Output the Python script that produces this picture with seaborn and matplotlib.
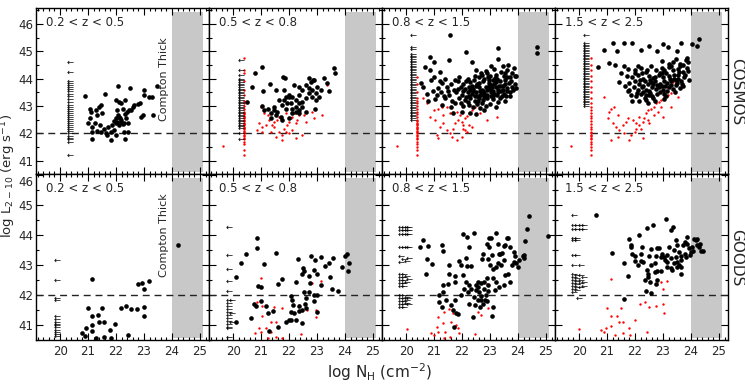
import matplotlib
matplotlib.use('Agg')
import matplotlib.pyplot as plt
import matplotlib.transforms as mtransforms
from matplotlib.ticker import MultipleLocator
import seaborn as sns
import pandas as pd
import numpy as np

zbins = ['0.2 < z < 0.5', '0.5 < z < 0.8', '0.8 < z < 1.5', '1.5 < z < 2.5']
fields = ['COSMOS', 'GOODS']
x_ticks = [20, 21, 22, 23, 24, 25]
y_ticks = [41, 42, 43, 44, 45, 46]
lum_cut = 42.0
compton_thick = (24.0, 25.1)

# ---- COSMOS, detected sources (black) ----
cosmos1_black = [
    (20.88, 43.37), (21.59, 43.44), (22.07, 43.73), (22.51, 43.65), (23.01, 43.59), (23.45, 43.73),
    (23.01, 43.40), (23.19, 43.34), (23.28, 43.34), (22.95, 42.67), (23.31, 42.67), (22.89, 42.61),
    (21.06, 42.91), (21.11, 42.79), (21.27, 42.85), (21.39, 42.98), (21.45, 43.04), (21.33, 42.67),
    (21.51, 42.73), (21.06, 42.55), (21.23, 42.37), (21.42, 42.30), (20.99, 42.39), (21.14, 42.22),
    (21.33, 42.10), (21.57, 42.18), (21.71, 42.24), (21.14, 42.06), (21.14, 41.78), (21.45, 42.06),
    (21.63, 42.00), (21.69, 41.94), (21.83, 41.76), (21.99, 41.94), (21.81, 42.06), (21.93, 42.12),
    (21.99, 43.22), (22.11, 43.16), (22.19, 43.10), (22.31, 43.22), (22.05, 42.85), (22.07, 42.67),
    (22.11, 42.61), (22.14, 42.55), (22.19, 42.49), (22.17, 42.43), (22.05, 42.43), (21.99, 42.37),
    (22.11, 42.30), (22.23, 42.34), (22.29, 42.37), (21.99, 42.55), (21.93, 42.46), (21.87, 42.30),
    (22.31, 41.78), (22.41, 42.06), (22.23, 42.91), (22.47, 42.85), (22.59, 42.98), (22.65, 43.04),
    (22.77, 43.07), (22.87, 43.10), (22.39, 42.79), (22.53, 42.85), (22.31, 42.71), (22.35, 42.55),
    (22.43, 42.37), (22.29, 42.06),
]
cosmos2_black = [
    (20.51, 43.16), (20.79, 44.22), (21.05, 44.44), (20.69, 43.71), (21.07, 43.56), (21.32, 43.80),
    (21.52, 43.59), (21.79, 44.07), (21.86, 44.02), (21.05, 43.00), (21.26, 42.88), (21.35, 42.76),
    (21.46, 42.98), (21.52, 42.67), (21.70, 42.61), (21.58, 42.79), (21.76, 43.04), (21.82, 43.22),
    (21.90, 43.34), (22.00, 43.40), (22.12, 43.34), (22.24, 43.22), (22.36, 43.40), (22.06, 43.10),
    (21.88, 42.91), (22.12, 42.91), (22.24, 42.98), (22.36, 43.10), (22.48, 43.16), (22.60, 43.28),
    (22.71, 43.46), (22.83, 43.59), (22.77, 43.89), (22.89, 43.95), (23.01, 43.71), (23.13, 43.59),
    (23.25, 44.01), (23.07, 43.34), (22.95, 43.22), (22.60, 42.79), (22.36, 42.73), (22.12, 42.73),
    (22.00, 42.55), (21.76, 42.49), (21.35, 42.55), (22.71, 44.01), (22.86, 43.95), (23.43, 43.56),
    (23.61, 44.40), (23.64, 44.22), (23.37, 43.83), (22.93, 42.91), (22.48, 42.98), (22.36, 42.85),
    (22.24, 42.79), (21.94, 43.10), (21.82, 43.59), (22.18, 43.77), (22.36, 43.71), (22.48, 43.59),
    (22.60, 43.77), (22.71, 43.65), (22.95, 43.46), (22.83, 43.34), (22.00, 43.34), (21.64, 43.22),
    (21.46, 42.85), (21.11, 42.85),
]
cosmos3_black = [
    (21.57, 45.60), (22.15, 44.96), (23.27, 45.13), (24.67, 45.17), (24.67, 44.95), (20.86, 44.80),
    (21.00, 44.60), (21.55, 44.68), (22.35, 44.62), (23.30, 44.70), (23.65, 44.50), (23.45, 44.45),
    (20.68, 44.44), (20.85, 44.30), (21.20, 44.25), (22.50, 44.30), (22.90, 44.20), (23.15, 44.35),
    (23.40, 44.25), (23.60, 44.30), (23.85, 44.38), (22.70, 44.15), (21.00, 44.05), (21.40, 44.00),
    (21.90, 44.05), (22.20, 43.98), (22.60, 44.05), (23.00, 44.10), (23.25, 44.00), (23.50, 44.10),
    (23.70, 44.05), (23.93, 44.10), (22.45, 44.08), (23.10, 43.95), (20.55, 43.85), (21.30, 43.85),
    (21.60, 43.80), (21.85, 43.90), (22.05, 43.82), (22.30, 43.88), (22.55, 43.80), (22.75, 43.90),
    (22.95, 43.85), (23.15, 43.80), (23.35, 43.90), (23.55, 43.82), (23.75, 43.90), (22.15, 43.92),
    (23.05, 43.78), (20.60, 43.70), (21.15, 43.65), (21.45, 43.70), (21.70, 43.60), (21.95, 43.68),
    (22.10, 43.62), (22.25, 43.70), (22.40, 43.62), (22.60, 43.68), (22.70, 43.60), (22.85, 43.70),
    (23.00, 43.62), (23.20, 43.68), (23.30, 43.60), (23.45, 43.72), (23.60, 43.65), (23.80, 43.70),
    (22.50, 43.72), (22.95, 43.72), (20.75, 43.45), (21.25, 43.50), (21.55, 43.42), (21.80, 43.50),
    (22.00, 43.42), (22.20, 43.50), (22.35, 43.45), (22.50, 43.50), (22.65, 43.42), (22.80, 43.48),
    (22.90, 43.40), (23.05, 43.50), (23.15, 43.44), (23.30, 43.50), (23.50, 43.45), (23.70, 43.50),
    (22.55, 43.38), (22.75, 43.55), (23.25, 43.40), (21.05, 43.25), (21.40, 43.30), (21.65, 43.20),
    (21.90, 43.28), (22.10, 43.22), (22.30, 43.30), (22.45, 43.20), (22.60, 43.28), (22.75, 43.22),
    (22.90, 43.30), (23.10, 43.25), (23.35, 43.30), (23.55, 43.20), (22.20, 43.15), (22.70, 43.12),
    (20.80, 43.20), (21.30, 43.05), (21.60, 42.95), (21.75, 43.10), (22.05, 43.00), (22.25, 43.05),
    (22.40, 42.95), (22.55, 43.08), (22.85, 43.00), (23.00, 43.08), (23.20, 42.95), (22.65, 42.92),
    (21.69, 42.76), (22.00, 42.80), (22.30, 42.75), (22.80, 42.85), (22.50, 42.70), (23.90, 44.10),
    (22.40, 43.55), (22.65, 43.55), (23.10, 43.55), (22.85, 43.35), (23.40, 43.55), (22.30, 43.60),
    (23.55, 43.95), (23.20, 44.15), (22.80, 44.00), (21.75, 43.95), (22.35, 43.75), (22.45, 43.35),
    (22.62, 43.85), (22.72, 43.45), (22.88, 43.58), (22.98, 43.95), (23.08, 43.68), (23.12, 43.35),
    (23.22, 43.88), (23.28, 43.15), (23.38, 43.75), (23.42, 43.38), (23.48, 43.60), (23.52, 44.20),
    (23.62, 43.55), (23.66, 43.85), (23.72, 43.35), (23.78, 44.20), (23.82, 43.58), (23.88, 43.80),
    (22.25, 43.38), (22.42, 43.95), (22.58, 43.18), (22.68, 44.22), (22.78, 43.32), (22.92, 44.05),
    (23.02, 43.35), (23.18, 44.02), (23.32, 43.72), (23.58, 43.35), (21.85, 43.62), (22.05, 43.55),
    (22.15, 43.32), (21.95, 43.10), (21.50, 43.55), (21.35, 43.35), (21.20, 43.90), (20.95, 43.55),
    (20.90, 43.95), (21.10, 43.40), (22.85, 44.28), (23.02, 44.45), (23.62, 44.05), (23.92, 43.65),
]
cosmos4_black = [
    (21.20, 45.29), (21.62, 45.32), (21.88, 45.32), (20.88, 45.05), (20.67, 44.44), (21.08, 44.56),
    (21.30, 44.50), (21.44, 43.89), (21.80, 43.59), (23.64, 45.29), (23.17, 45.17), (24.20, 45.20),
    (24.30, 45.44), (24.05, 45.25), (23.82, 44.68), (22.20, 45.05), (22.80, 45.00), (22.95, 44.65),
    (23.20, 44.55), (23.45, 44.70), (23.60, 44.52), (23.90, 44.60), (23.30, 44.45), (21.60, 44.45),
    (21.75, 44.35), (22.00, 44.30), (22.40, 44.25), (22.75, 44.30), (22.95, 44.40), (23.10, 44.20),
    (23.35, 44.30), (23.55, 44.35), (23.70, 44.25), (23.85, 44.40), (22.20, 44.38), (23.05, 44.32),
    (21.70, 44.10), (21.90, 44.05), (22.10, 44.12), (22.30, 44.00), (22.50, 44.10), (22.65, 44.02),
    (22.85, 44.12), (23.00, 44.05), (23.20, 44.10), (23.40, 44.00), (23.55, 44.12), (23.75, 44.05),
    (23.25, 43.98), (22.55, 43.95), (21.80, 43.85), (22.00, 43.92), (22.15, 43.80), (22.35, 43.90),
    (22.45, 43.82), (22.70, 43.90), (22.90, 43.82), (23.05, 43.92), (23.15, 43.85), (23.30, 43.90),
    (23.50, 43.85), (23.65, 43.92), (22.80, 43.78), (23.45, 43.78), (21.95, 43.70), (22.10, 43.60),
    (22.25, 43.68), (22.40, 43.58), (22.60, 43.70), (22.75, 43.62), (22.85, 43.70), (23.00, 43.60),
    (23.20, 43.68), (23.35, 43.62), (23.60, 43.65), (22.50, 43.55), (22.95, 43.72), (21.85, 43.40),
    (22.05, 43.35), (22.20, 43.45), (22.35, 43.30), (22.50, 43.40), (22.65, 43.28), (22.80, 43.45),
    (23.05, 43.45), (22.30, 43.50), (22.55, 43.48), (21.90, 43.20), (22.15, 43.18), (22.40, 43.22),
    (22.45, 43.12), (23.15, 43.55), (23.45, 43.95), (22.65, 43.80), (23.70, 43.75), (22.90, 44.22),
    (23.60, 44.45), (22.25, 44.20), (22.30, 43.75), (22.42, 44.32), (22.58, 43.88), (22.62, 43.38),
    (22.72, 44.05), (22.88, 43.52), (22.98, 44.22), (23.08, 43.75), (23.12, 43.38), (23.22, 44.42),
    (23.28, 43.78), (23.38, 44.15), (23.42, 43.52), (23.52, 43.98), (23.58, 44.25), (23.68, 43.82),
    (23.72, 44.50), (23.78, 44.15), (23.88, 44.28), (23.92, 43.95), (22.08, 43.48), (22.18, 43.95),
    (21.98, 44.20), (21.65, 43.75), (21.75, 43.55), (22.38, 43.42), (22.58, 44.45), (22.72, 43.20),
    (23.02, 43.25), (23.35, 44.60), (23.85, 44.75), (22.12, 44.45), (21.50, 44.20), (21.35, 45.00),
    (22.50, 45.20), (23.00, 45.25), (23.50, 45.00),
]

# ---- COSMOS, lower-luminosity sources (red) ----
cosmos1_red = []
cosmos2_red = [
    (19.64, 41.55), (20.99, 42.98), (21.11, 42.73), (21.23, 42.67), (21.29, 42.49), (20.93, 42.37),
    (21.05, 42.24), (21.17, 42.30), (21.35, 42.06), (21.46, 42.24), (21.64, 42.06), (21.76, 41.94),
    (21.82, 42.18), (21.94, 42.30), (22.00, 42.43), (22.06, 42.55), (22.12, 42.61), (22.18, 42.73),
    (22.24, 42.37), (22.30, 42.49), (22.36, 42.67), (21.52, 41.88), (21.76, 41.76), (22.00, 42.00),
    (22.24, 41.82), (22.48, 41.94), (21.64, 42.61), (21.88, 42.73), (21.46, 42.43), (22.54, 42.67),
    (22.89, 42.55), (23.19, 42.67), (23.37, 43.77), (22.60, 42.43), (21.88, 42.06), (22.12, 42.12),
    (20.87, 42.12), (21.05, 42.06), (21.40, 42.30), (21.58, 42.49), (22.83, 42.79),
]
cosmos3_red = [
    (19.67, 41.55), (20.62, 43.28), (20.74, 43.10), (20.98, 42.85), (21.15, 42.91), (21.27, 42.98),
    (20.86, 42.61), (21.04, 42.49), (21.21, 42.24), (21.33, 42.37), (21.45, 42.12), (21.57, 42.00),
    (21.69, 42.18), (21.10, 41.94), (21.15, 41.82), (21.63, 41.88), (21.81, 41.76), (22.10, 42.12),
    (21.87, 42.49), (21.99, 42.43), (22.05, 42.30), (22.10, 42.55), (22.17, 42.63), (22.26, 42.73),
    (22.35, 42.85), (22.46, 42.98), (22.52, 43.10), (21.93, 42.67), (21.81, 42.79), (22.05, 42.18),
    (22.19, 42.06), (22.35, 42.24), (23.24, 42.61), (22.88, 42.49), (22.64, 42.73), (21.57, 42.73),
    (21.45, 42.98), (21.33, 42.67), (21.75, 42.37), (21.99, 41.88), (22.23, 42.30),
]
cosmos4_red = [
    (19.71, 41.55), (20.90, 43.34), (21.14, 42.91), (21.08, 42.79), (21.26, 42.98), (21.38, 42.67),
    (21.02, 42.55), (21.20, 42.37), (21.32, 42.24), (21.44, 42.12), (21.56, 42.30), (21.68, 42.43),
    (21.74, 42.55), (21.92, 42.49), (22.04, 42.37), (22.15, 42.30), (22.27, 42.43), (22.33, 42.55),
    (22.39, 42.73), (22.48, 42.85), (22.57, 42.91), (22.67, 42.98), (22.75, 43.10), (22.87, 43.16),
    (22.93, 43.22), (23.05, 43.34), (23.17, 43.40), (23.29, 43.46), (23.40, 43.59), (23.52, 43.34),
    (23.29, 42.98), (22.99, 42.61), (22.69, 42.67), (22.45, 42.49), (22.21, 42.18), (21.98, 42.06),
    (21.86, 41.94), (21.62, 42.00), (21.38, 41.88), (21.14, 41.76), (21.80, 41.76), (22.27, 41.82),
    (22.04, 42.18), (22.15, 42.61), (22.51, 42.37), (22.81, 42.79), (23.14, 43.71), (23.35, 43.89),
    (23.05, 43.52), (22.93, 42.98),
]
# red column of sources at the N_H floor
cosmos_red_col_x = [20.38, 20.38, 20.38, 20.43]
cosmos1_red_col = []
cosmos2_red_col = [
    44.74, 44.30, 44.20, 43.90, 43.60, 43.40, 43.20, 43.10, 43.00, 42.90, 42.80, 42.75, 42.70, 42.65,
    42.60, 42.55, 42.50, 42.45, 42.40, 42.35, 42.30, 42.25, 42.20, 42.15, 42.10, 42.05, 42.00, 41.95,
    41.90, 41.85, 41.80, 41.70, 41.60, 41.40, 41.20,
]
cosmos3_red_col = [
    44.07, 43.80, 43.50, 43.30, 43.20, 43.10, 43.00, 42.90, 42.80, 42.70, 42.60, 42.50, 42.45, 42.40,
    42.35, 42.30, 42.25, 42.20, 42.15, 42.10, 42.05, 42.00, 41.95, 41.90, 41.85, 41.80, 41.70, 41.60,
    41.50, 41.40, 41.20,
]
cosmos4_red_col = [
    44.74, 44.50, 44.30, 44.10, 43.90, 43.70, 43.50, 43.30, 43.10, 42.95, 42.85, 42.75, 42.65, 42.55,
    42.45, 42.35, 42.25, 42.15, 42.05, 42.00, 41.95, 41.90, 41.85, 41.80, 41.70, 41.60, 41.50, 41.40,
    41.20,
]

# ---- COSMOS upper limits on N_H (arrows) ----
cosmos_arrow_x = [20.35, 20.27, 20.26, 20.25]
cosmos1_arrows = [
    44.62, 44.26, 43.93, 43.85, 43.78, 43.70, 43.62, 43.55, 43.45, 43.35, 43.25, 43.15, 43.05, 42.98,
    42.90, 42.82, 42.75, 42.68, 42.60, 42.52, 42.45, 42.38, 42.30, 42.22, 42.15, 42.08, 42.00, 41.92,
    41.85, 41.78, 41.70, 41.23,
]
cosmos2_arrows = [
    44.68, 44.30, 44.15, 44.00, 43.95, 43.88, 43.82, 43.76, 43.70, 43.64, 43.58, 43.52, 43.46, 43.40,
    43.34, 43.28, 43.22, 43.16, 43.10, 43.04, 42.98, 42.92, 42.86, 42.80, 42.74, 42.68, 42.62, 42.56,
    42.50, 42.44, 42.38, 42.32, 42.26, 42.20, 42.00, 41.80,
]
cosmos3_arrows = [
    45.60, 45.15, 45.08, 44.90, 44.84, 44.78, 44.72, 44.66, 44.60, 44.54, 44.48, 44.42, 44.36, 44.30,
    44.24, 44.18, 44.12, 44.06, 44.00, 43.94, 43.88, 43.82, 43.76, 43.70, 43.64, 43.58, 43.52, 43.46,
    43.40, 43.34, 43.28, 43.22, 43.16, 43.10, 43.04, 42.98, 42.92, 42.86, 42.80, 42.74, 42.68, 42.62,
    42.56, 42.50,
]
cosmos4_arrows = [
    45.60, 45.30, 45.24, 45.18, 45.12, 45.06, 45.00, 44.94, 44.88, 44.82, 44.76, 44.70, 44.64, 44.58,
    44.52, 44.46, 44.40, 44.34, 44.28, 44.22, 44.16, 44.10, 44.04, 43.98, 43.92, 43.86, 43.80, 43.74,
    43.68, 43.62, 43.56, 43.50, 43.44, 43.38, 43.32, 43.26, 43.20, 43.14, 43.08, 43.02,
]

# ---- GOODS ----
goods1_black = [
    (21.13, 42.53), (21.01, 41.56), (21.13, 41.31), (21.37, 41.33), (21.51, 41.56), (21.13, 41.00),
    (21.39, 41.11), (21.58, 41.09), (21.96, 41.02), (20.93, 40.91), (20.77, 40.72), (20.89, 40.64),
    (21.13, 40.80), (21.29, 40.56), (21.58, 40.61), (21.79, 40.83), (21.82, 40.56), (22.17, 41.56),
    (22.35, 41.64), (22.52, 41.52), (22.74, 41.52), (22.44, 40.67), (22.80, 42.37), (22.92, 42.39),
    (23.00, 42.20), (23.18, 42.48), (23.00, 41.60), (23.01, 41.30), (24.23, 43.67),
]
goods2_black = [
    (20.87, 43.92), (20.85, 43.58), (20.45, 43.36), (20.27, 43.09), (21.11, 43.04), (21.55, 43.42),
    (20.10, 42.59), (20.88, 42.30), (21.01, 42.26), (21.60, 42.36), (21.74, 42.53), (20.99, 41.80),
    (20.75, 41.70), (20.83, 41.65), (21.17, 41.64), (21.23, 41.39), (21.44, 41.47), (20.63, 41.22),
    (20.10, 41.11), (21.61, 40.92), (21.29, 40.81), (21.90, 41.11), (22.06, 41.98), (22.10, 41.83),
    (22.14, 41.67), (22.06, 41.42), (21.98, 41.17), (22.06, 41.17), (22.24, 41.17), (22.16, 41.39),
    (22.48, 41.06), (22.26, 42.44), (22.33, 43.22), (22.50, 42.91), (22.54, 42.82), (22.48, 42.69),
    (22.36, 41.47), (22.36, 41.64), (22.48, 41.50), (22.60, 41.56), (22.57, 41.71), (22.60, 41.89),
    (22.54, 42.09), (22.71, 42.09), (22.75, 42.39), (22.71, 42.64), (22.77, 43.30), (22.89, 42.83),
    (22.93, 43.17), (23.01, 42.72), (22.89, 42.00), (22.89, 41.81), (23.01, 41.42), (23.13, 43.28),
    (23.29, 42.97), (23.43, 43.08), (23.46, 42.61), (23.52, 42.20), (23.57, 43.24), (23.75, 42.13),
    (23.88, 42.94), (23.99, 43.31), (24.06, 43.39), (24.14, 43.06), (24.12, 42.81), (23.01, 42.02),
    (23.13, 42.33),
]
goods3_black = [
    (20.60, 43.86), (20.51, 43.61), (20.77, 43.64), (20.75, 43.20), (20.71, 42.70), (20.92, 43.03),
    (21.29, 43.67), (21.31, 43.48), (21.33, 42.33), (21.31, 42.11), (21.17, 42.02), (21.19, 41.76),
    (21.27, 41.61), (21.43, 41.83), (21.49, 42.36), (21.55, 42.69), (21.55, 43.00), (21.73, 42.64),
    (21.73, 42.44), (21.75, 41.83), (21.61, 41.67), (21.67, 41.50), (21.79, 41.39), (21.87, 41.36),
    (21.70, 40.94), (22.02, 44.03), (22.18, 43.94), (22.23, 43.61), (21.90, 43.13), (21.96, 43.00),
    (22.18, 42.97), (22.32, 42.97), (22.14, 43.24), (22.02, 42.67), (22.14, 42.44), (22.23, 42.33),
    (22.32, 42.22), (22.20, 42.11), (22.06, 42.22), (21.96, 42.00), (22.44, 44.08), (22.38, 41.28),
    (22.26, 41.72), (22.42, 41.94), (22.50, 42.17), (22.50, 42.33), (22.56, 42.44), (22.58, 42.28),
    (22.62, 42.11), (22.68, 41.98), (22.68, 41.83), (22.56, 41.83), (22.46, 41.67), (22.64, 41.61),
    (22.74, 41.72), (22.82, 41.83), (22.89, 41.80), (22.86, 42.00), (22.80, 42.22), (22.92, 42.33),
    (22.68, 42.42), (22.80, 42.44), (22.89, 42.58), (22.70, 43.20), (22.74, 43.36), (22.89, 43.72),
    (22.98, 43.91), (23.04, 43.91), (22.98, 43.61), (22.92, 43.20), (23.01, 43.00), (23.06, 43.33),
    (23.10, 42.89), (23.21, 42.94), (23.27, 43.09), (23.33, 43.39), (23.27, 43.72), (23.21, 44.08),
    (23.37, 43.39), (23.42, 43.41), (23.49, 43.63), (23.54, 43.67), (23.61, 43.91), (23.65, 43.91),
    (23.39, 43.00), (23.51, 43.17), (23.54, 42.67), (23.63, 42.72), (23.77, 43.00), (23.87, 43.11),
    (23.90, 43.31), (23.85, 43.44), (23.70, 43.61), (23.51, 42.33), (23.21, 42.44), (23.10, 42.56),
    (22.94, 42.13), (23.10, 41.61), (23.06, 41.30), (23.18, 42.17), (23.33, 42.28), (23.73, 42.44),
    (23.93, 43.06), (23.99, 42.94), (24.05, 43.17), (24.20, 43.33), (24.20, 43.24), (24.25, 43.80),
    (24.31, 44.22), (24.38, 44.64), (25.06, 43.98), (24.17, 43.31),
]
goods4_black = [
    (20.60, 44.69), (21.19, 43.42), (21.61, 43.08), (21.73, 42.63), (21.61, 41.86), (21.79, 43.87),
    (21.85, 43.67), (21.87, 43.61), (21.90, 43.36), (21.99, 43.31), (22.14, 44.00), (22.24, 43.61),
    (22.20, 43.39), (22.20, 43.13), (22.11, 43.02), (21.99, 43.13), (22.30, 43.11), (22.42, 44.24),
    (22.65, 44.33), (22.56, 43.53), (22.77, 43.58), (22.86, 43.58), (22.74, 43.30), (22.70, 43.08),
    (22.50, 43.30), (22.56, 43.00), (22.42, 42.83), (22.46, 42.72), (22.46, 42.61), (22.35, 42.50),
    (22.54, 42.44), (22.70, 42.78), (22.77, 42.80), (22.92, 42.80), (22.80, 42.52), (22.74, 42.36),
    (22.58, 42.06), (22.38, 42.13), (23.10, 44.53), (23.27, 44.19), (23.37, 44.28), (22.98, 43.39),
    (23.04, 43.28), (23.15, 43.33), (23.15, 43.11), (23.21, 43.61), (23.27, 42.91), (23.33, 42.83),
    (23.39, 43.50), (23.45, 43.83), (23.51, 43.67), (23.57, 43.44), (23.45, 43.28), (23.51, 43.11),
    (23.39, 43.06), (23.57, 43.00), (23.65, 43.17), (23.65, 42.69), (23.73, 43.67), (23.77, 43.78),
    (23.85, 43.94), (23.87, 43.72), (23.93, 43.56), (23.99, 43.44), (24.05, 43.61), (24.11, 43.89),
    (24.17, 43.83), (24.23, 43.89), (24.20, 43.67), (24.29, 43.61), (24.32, 43.72), (24.08, 43.47),
    (23.96, 43.33), (23.77, 43.39), (23.63, 43.31), (23.65, 42.94), (23.81, 43.28), (24.35, 43.47),
    (24.44, 43.47), (23.51, 42.94), (23.27, 43.24), (23.15, 42.94), (23.06, 43.17), (22.92, 43.28),
]
goods1_red = []
goods2_red = [
    (20.99, 42.58), (20.87, 41.78), (21.05, 41.64), (21.05, 41.31), (20.93, 40.91), (20.79, 40.72),
    (21.17, 40.91), (21.35, 41.11), (21.52, 41.11), (21.23, 40.58), (21.76, 40.56), (21.35, 40.78),
    (20.99, 40.78), (21.52, 40.61), (21.46, 41.61), (22.36, 41.67), (22.65, 41.50), (22.95, 41.50),
    (22.98, 41.28), (22.83, 42.39), (23.13, 42.47), (22.42, 40.69), (21.76, 41.56),
]
goods3_red = [
    (20.04, 40.86), (21.29, 41.59), (21.37, 41.44), (21.55, 41.52), (21.67, 41.39), (21.13, 41.28),
    (21.31, 41.06), (21.11, 40.94), (20.89, 40.72), (20.99, 40.67), (21.15, 40.78), (21.39, 40.78),
    (21.61, 41.11), (21.79, 41.00), (21.85, 40.89), (21.37, 40.56), (21.57, 40.61), (21.90, 40.72),
    (22.48, 40.70), (22.92, 41.58), (23.06, 41.30), (22.68, 41.33), (22.56, 41.44), (23.21, 42.44),
    (22.89, 42.36),
]
goods4_red = [
    (20.00, 40.86), (21.13, 42.53), (21.01, 41.56), (21.13, 41.29), (21.34, 41.31), (21.51, 41.56),
    (21.42, 41.09), (21.58, 41.09), (21.13, 40.98), (20.96, 40.91), (20.77, 40.83), (20.89, 40.76),
    (21.29, 40.67), (21.57, 40.72), (21.77, 40.91), (21.83, 40.67), (21.99, 41.17), (22.17, 41.69),
    (22.35, 41.78), (22.50, 41.61), (22.74, 41.63), (23.01, 41.70), (23.04, 41.41), (22.42, 40.78),
    (22.80, 42.36), (22.92, 42.44), (23.01, 42.20), (23.15, 42.47),
]
goods1_arrows = [
    (19.88, 43.17), (19.88, 42.50), (19.88, 41.90), (19.88, 41.85), (19.88, 41.30), (19.88, 41.20),
    (19.88, 41.10), (19.88, 41.05), (19.88, 41.00), (19.88, 40.93), (19.88, 40.85), (19.88, 40.78),
    (19.88, 40.70), (19.88, 40.62),
]
goods2_arrows = [
    (19.86, 44.28), (19.86, 43.33), (19.86, 42.86), (19.86, 42.47), (19.86, 42.13), (19.86, 41.83),
    (19.86, 41.75), (19.86, 41.65), (19.86, 41.55), (19.86, 41.45), (19.86, 41.35), (19.86, 41.25),
    (19.86, 41.15), (19.86, 41.05), (19.86, 40.95), (19.86, 40.89), (19.86, 40.61), (19.96, 41.83),
    (19.96, 41.40), (19.96, 41.10),
]
goods3_arrows = [
    (19.82, 44.28), (19.82, 44.17), (19.82, 44.05), (19.92, 44.28), (19.92, 44.17), (19.92, 44.05),
    (20.02, 44.28), (20.02, 44.17), (20.02, 44.05), (20.12, 44.28), (20.12, 44.17), (20.12, 44.05),
    (19.82, 43.60), (19.92, 43.60), (20.02, 43.60), (20.12, 43.60), (19.82, 43.30), (19.92, 43.20),
    (20.02, 43.15), (20.12, 43.25), (19.82, 43.10), (19.82, 42.70), (19.82, 42.60), (19.82, 42.50),
    (19.82, 42.40), (19.82, 42.30), (19.92, 42.70), (19.92, 42.60), (19.92, 42.50), (19.92, 42.40),
    (19.92, 42.30), (20.02, 42.65), (20.02, 42.45), (20.12, 42.55), (19.82, 42.00), (19.82, 41.90),
    (19.82, 41.80), (19.82, 41.70), (19.82, 41.60), (19.92, 42.00), (19.92, 41.90), (19.92, 41.80),
    (19.92, 41.70), (19.92, 41.60), (20.02, 41.95), (20.02, 41.85), (20.02, 41.75), (20.12, 41.90),
    (20.12, 41.70),
]
goods4_arrows = [
    (19.82, 44.69), (19.82, 44.33), (19.82, 44.22), (19.94, 44.33), (19.94, 44.22), (20.06, 44.33),
    (20.06, 44.22), (20.18, 44.33), (20.18, 44.22), (19.82, 43.90), (19.82, 43.83), (19.94, 43.90),
    (19.94, 43.83), (19.82, 43.33), (19.94, 43.33), (19.82, 43.00), (20.06, 43.00), (19.82, 42.72),
    (19.82, 42.62), (19.82, 42.52), (19.82, 42.42), (19.82, 42.32), (19.82, 42.22), (19.82, 42.10),
    (19.94, 42.66), (19.94, 42.56), (19.94, 42.46), (19.94, 42.36), (19.94, 42.26), (19.94, 42.16),
    (20.06, 42.66), (20.06, 42.52), (20.06, 42.40), (20.06, 42.28), (20.18, 42.60), (20.18, 42.45),
    (20.18, 42.30), (20.00, 41.90),
]

cosmos_black = [cosmos1_black, cosmos2_black, cosmos3_black, cosmos4_black]
cosmos_red = [cosmos1_red, cosmos2_red, cosmos3_red, cosmos4_red]
cosmos_red_col = [cosmos1_red_col, cosmos2_red_col, cosmos3_red_col, cosmos4_red_col]
cosmos_arrows = [cosmos1_arrows, cosmos2_arrows, cosmos3_arrows, cosmos4_arrows]
goods_black = [goods1_black, goods2_black, goods3_black, goods4_black]
goods_red = [goods1_red, goods2_red, goods3_red, goods4_red]
goods_arrows = [goods1_arrows, goods2_arrows, goods3_arrows, goods4_arrows]


def to_df(pairs):
    return pd.DataFrame(pairs, columns=['nh', 'lx'], dtype=float)


sns.set_style('ticks')
plt.rcParams['font.family'] = ['DejaVu Sans']

fig, axes = plt.subplots(2, 4, figsize=(7.45, 3.84), dpi=100, sharex=True)
fig.subplots_adjust(left=36/745, right=728/745, top=1-8/384, bottom=1-340/384,
                    wspace=0, hspace=0)

ylims = [(40.52, 46.58), (40.5, 46.05)]

for row in range(2):
    for col in range(4):
        ax = axes[row, col]
        ax.axvspan(compton_thick[0], compton_thick[1], ymin=0.015, ymax=0.975,
                   color='#c8c8c8', lw=0, zorder=0)
        ax.axhline(lum_cut, color='#222222', lw=1.0, ls=(0, (5, 3.5)), zorder=1)

        if row == 0:
            black = to_df(cosmos_black[col])
            red = to_df(cosmos_red[col] + [(cosmos_red_col_x[col], y) for y in cosmos_red_col[col]])
            arrows = to_df([(cosmos_arrow_x[col], y) for y in cosmos_arrows[col]])
        else:
            black = to_df(goods_black[col])
            red = to_df(goods_red[col])
            arrows = to_df(goods_arrows[col])

        if len(red):
            sns.scatterplot(data=red, x='nh', y='lx', ax=ax, color='red', s=3,
                            linewidth=0, legend=False, zorder=2)
        sns.scatterplot(data=arrows, x='nh', y='lx', ax=ax, color='black', s=20,
                        marker=r'$\leftarrow$', linewidth=0, legend=False, zorder=3)
        sns.scatterplot(data=black, x='nh', y='lx', ax=ax, color='black', s=11,
                        linewidth=0, legend=False, zorder=4)

        ax.set_xlim(19.14, 25.32)
        ax.set_ylim(*ylims[row])
        ax.set_xticks(x_ticks)
        ax.set_yticks(y_ticks)
        ax.xaxis.set_minor_locator(MultipleLocator(0.2))
        ax.yaxis.set_minor_locator(MultipleLocator(0.5))
        ax.tick_params(which='both', direction='in', top=True, right=True,
                       labelsize=8.5, color='black', width=0.8)
        ax.tick_params(which='major', length=5)
        ax.tick_params(which='minor', length=2.5)
        ax.tick_params(axis='y', pad=2.0)
        ax.set_xlabel('')
        ax.set_ylabel('')
        if col > 0:
            ax.tick_params(labelleft=False)
        if row == 0:
            ax.tick_params(labelbottom=False)
        for sp in ax.spines.values():
            sp.set_linewidth(1.0)
            sp.set_color('black')

        ax.text(0.06, 0.95, zbins[col], transform=ax.transAxes, fontsize=8.5,
                ha='left', va='top')
        if col == 0:
            ax.text(23.72, 44.0, 'Compton Thick', rotation=90, fontsize=8,
                    ha='center', va='center')

# nudge the top "46" label of the lower row down, as in the original
fig.canvas.draw()
top_lab = axes[1, 0].get_yticklabels()[-1]
top_lab.set_transform(top_lab.get_transform() +
                      mtransforms.ScaledTranslation(0, -6/100, fig.dpi_scale_trans))

fig.text(380/745, 1 - 372/384, r'log N$_{\rm H}$ (cm$^{-2}$)', ha='center',
         va='center', fontsize=11)
fig.text(8.5/745, 1 - 176/384, r'log L$_{2-10}$ (erg s$^{-1}$)', ha='center',
         va='center', rotation=90, fontsize=9.5)
fig.text(737/745, 1 - 92/384, fields[0], ha='center', va='center', rotation=270,
         fontsize=11)
fig.text(737/745, 1 - 258/384, fields[1], ha='center', va='center', rotation=270,
         fontsize=11)

fig.savefig('out.png', dpi=100)
